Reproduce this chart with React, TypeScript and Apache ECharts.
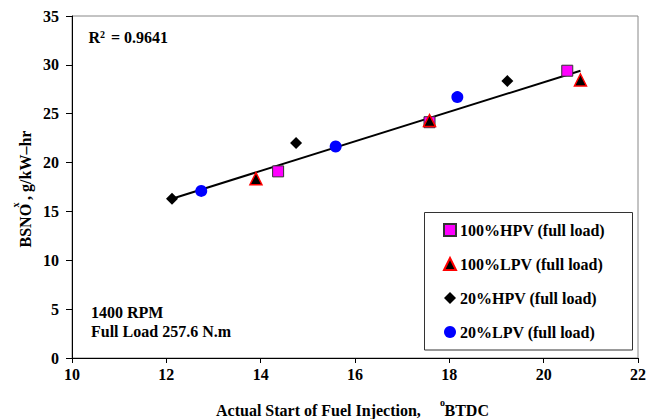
import React, { useEffect, useRef } from 'react';
import * as echarts from 'echarts';

const FONT = '"Liberation Serif", "Times New Roman", Times, serif';

const hpv100X = [14.37, 17.58, 20.5];
const hpv100Y = [19.1, 24.13, 29.4];
const lpv100X = [13.9, 17.58, 20.78];
const lpv100Y = [18.35, 24.3, 28.45];
const hpv20X = [12.12, 14.75, 19.23];
const hpv20Y = [16.3, 22.0, 28.35];
const lpv20X = [12.74, 15.59, 18.17];
const lpv20Y = [17.1, 21.65, 26.7];
const trendX = [12.12, 20.78];
const trendY = [16.3, 29.4];

const seriesNames = [
  '100%HPV (full load)',
  '100%LPV (full load)',
  '20%HPV (full load)',
  '20%LPV (full load)',
];

const xTicks = { min: 10, max: 22, interval: 2 };
const yTicks = { min: 0, max: 35, interval: 5 };

const zip = (xs: number[], ys: number[]) => xs.map((x, i) => [x, ys[i]]);

export default function App() {
  const ref = useRef<HTMLDivElement>(null);
  useEffect(() => {
    document.body.style.margin = '0';
    const chart = echarts.init(ref.current!, null, { renderer: 'svg' });
    const labelStyle = { color: '#000', fontFamily: FONT, fontWeight: 'bold' as const, fontSize: 16 };
    chart.setOption({
      animation: false,
      backgroundColor: '#fff',
      grid: {
        left: 72,
        top: 16,
        right: 15,
        bottom: 61,
        show: true,
        borderColor: '#888',
        borderWidth: 1,
        backgroundColor: 'transparent',
      },
      xAxis: {
        type: 'value',
        min: xTicks.min,
        max: xTicks.max,
        interval: xTicks.interval,
        axisLine: { show: true, onZero: false, lineStyle: { color: '#000', width: 1 } },
        axisTick: { show: true, length: 5, lineStyle: { color: '#000' } },
        splitLine: { show: false },
        axisLabel: { ...labelStyle, margin: 8 },
      },
      yAxis: {
        type: 'value',
        min: yTicks.min,
        max: yTicks.max,
        interval: yTicks.interval,
        axisLine: { show: true, onZero: false, lineStyle: { color: '#000', width: 1 } },
        axisTick: { show: true, length: 6, lineStyle: { color: '#000' } },
        splitLine: { show: false },
        axisLabel: { ...labelStyle, margin: 13 },
      },
      legend: {
        data: seriesNames,
        orient: 'vertical',
        left: 443,
        top: 222,
        itemWidth: 12,
        itemHeight: 12,
        itemGap: 18,
        padding: 0,
        textStyle: { ...labelStyle, padding: [0, 0, 0, -1] },
        selectedMode: false,
      },
      graphic: [
        {
          type: 'rect',
          shape: { x: 424.5, y: 212.5, width: 208, height: 137.5 },
          style: { fill: '#fff', stroke: '#333', lineWidth: 1 },
          z: 0,
        },
        {
          type: 'text',
          x: 88.5,
          y: 37,
          style: { text: 'R', font: `bold 16px ${FONT}`, fill: '#000', textVerticalAlign: 'middle' },
        },
        {
          type: 'text',
          x: 100,
          y: 34,
          style: { text: '2', font: `bold 10px ${FONT}`, fill: '#000', textVerticalAlign: 'middle' },
        },
        {
          type: 'text',
          x: 111,
          y: 37,
          style: { text: '= 0.9641', font: `bold 16px ${FONT}`, fill: '#000', textVerticalAlign: 'middle' },
        },
        {
          type: 'text',
          x: 91,
          y: 312,
          style: { text: '1400 RPM', font: `bold 16px ${FONT}`, fill: '#000', textVerticalAlign: 'middle' },
        },
        {
          type: 'text',
          x: 91,
          y: 331,
          style: { text: 'Full Load 257.6 N.m', font: `bold 16px ${FONT}`, fill: '#000', textVerticalAlign: 'middle' },
        },
        {
          type: 'text',
          x: 216,
          y: 410,
          style: { text: 'Actual Start of Fuel Injection,', font: `bold 16px ${FONT}`, fill: '#000', textVerticalAlign: 'middle' },
        },
        {
          type: 'text',
          x: 440,
          y: 402,
          style: { text: 'o', font: `bold 10px ${FONT}`, fill: '#000', textVerticalAlign: 'middle' },
        },
        {
          type: 'text',
          x: 444.5,
          y: 410,
          style: { text: 'BTDC', font: `bold 16px ${FONT}`, fill: '#000', textVerticalAlign: 'middle' },
        },
        {
          type: 'text',
          x: 25.5,
          y: 189,
          rotation: Math.PI / 2,
          style: {
            text: 'BSNO , g/kW\u2013hr',
            font: `bold 16px ${FONT}`,
            fill: '#000',
            textAlign: 'center',
            textVerticalAlign: 'middle',
          },
        },
        {
          type: 'text',
          x: 15,
          y: 205,
          rotation: Math.PI / 2,
          style: {
            text: 'x',
            font: `bold 10px ${FONT}`,
            fill: '#000',
            textAlign: 'center',
            textVerticalAlign: 'middle',
          },
        },
      ],
      series: [
        {
          type: 'line',
          name: 'trend',
          data: zip(trendX, trendY),
          symbol: 'none',
          lineStyle: { color: '#000', width: 2 },
          z: 2,
        },
        {
          type: 'scatter',
          name: seriesNames[0],
          data: zip(hpv100X, hpv100Y),
          symbol: 'rect',
          symbolSize: 11,
          itemStyle: { color: '#ff00ff', borderColor: '#333', borderWidth: 1, opacity: 1 },
          z: 3,
        },
        {
          type: 'scatter',
          name: seriesNames[1],
          data: zip(lpv100X, lpv100Y),
          symbol: 'triangle',
          symbolSize: 12,
          itemStyle: { color: '#000', borderColor: '#ff0000', borderWidth: 1.5, opacity: 1 },
          z: 4,
        },
        {
          type: 'scatter',
          name: seriesNames[2],
          data: zip(hpv20X, hpv20Y),
          symbol: 'diamond',
          symbolSize: 12,
          itemStyle: { color: '#000', opacity: 1 },
          z: 5,
        },
        {
          type: 'scatter',
          name: seriesNames[3],
          data: zip(lpv20X, lpv20Y),
          symbol: 'circle',
          symbolSize: 12,
          itemStyle: { color: '#0000ff', opacity: 1 },
          z: 6,
        },
      ],
    });
    return () => chart.dispose();
  }, []);
  return (
    <div
      ref={ref}
      style={{ position: 'absolute', left: 0, top: 0, width: 653, height: 419 }}
    />
  );
}
